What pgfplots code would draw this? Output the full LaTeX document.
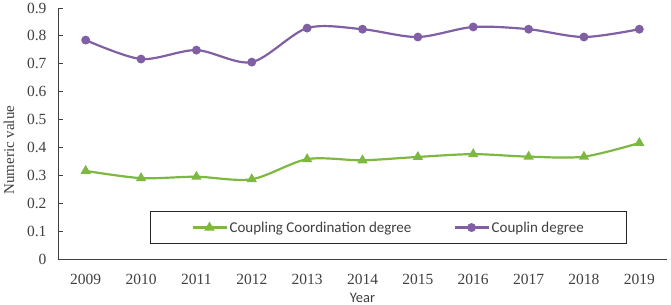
\documentclass[border=0pt]{standalone}
\usepackage{pgfplots}
\pgfplotsset{compat=1.18}
\usepackage{fontspec}
\setmainfont{Liberation Serif}
\newfontfamily\calfont{Carlito}
\definecolor{cgreen}{RGB}{125,185,65}
\definecolor{cpurple}{RGB}{128,95,165}
\begin{document}
\begin{tikzpicture}
\path[use as bounding box] (0,0) rectangle (671bp,305bp);
\begin{axis}[
  at={(58bp,46bp)}, anchor=south west,
  scale only axis, width=609bp, height=251bp,
  xmin=-0.5, xmax=10.5, ymin=0, ymax=0.9,
  axis lines=left,
  axis line style={-, black!75, line width=0.9pt},
  /pgf/number format/assume math mode=true,
  xtick={0,...,10},
  xticklabels={2009,2010,2011,2012,2013,2014,2015,2016,2017,2018,2019},
  extra x ticks={-0.5,0.5,1.5,2.5,3.5,4.5,5.5,6.5,7.5,8.5,9.5,10.5},
  extra x tick labels={},
  extra x tick style={major tick length=5bp, tick style={black!75, line width=0.9pt}},
  x tick style={draw=none},
  ytick={0,0.1,...,0.9},
  yticklabels={0,0.1,0.2,0.3,0.4,0.5,0.6,0.7,0.8,0.9},
  y tick style={black!75, line width=0.9pt},
  major tick length=5bp,
  tick align=inside,
  tick label style={font=\fontsize{15.5bp}{17bp}\selectfont, text=black!75},
  xticklabel style={yshift=-12bp},
  yticklabel style={xshift=-8bp},
  xlabel={\calfont Year},
  xlabel style={font=\fontsize{14.5bp}{16bp}\selectfont, text=black!75,
    at={(axis description cs:0.5,0)}, anchor=center, yshift=-39bp},
  ylabel={Numeric value},
  ylabel style={font=\fontsize{15bp}{17bp}\selectfont, text=black!75,
    at={(axis description cs:-0.0805,0.434)}, anchor=center},
  legend columns=2,
  legend style={at={(0.151,0.06)}, anchor=south west, draw=black!85, line width=0.9pt,
    inner xsep=41bp, inner ysep=8bp,
    font=\calfont\fontsize{15bp}{17bp}\selectfont, text=black!75,
    /tikz/every even column/.append style={column sep=40bp}},
  legend image code/.code={
    \draw[#1, mark=none] (0bp,0bp) -- (34bp,0bp);
    \draw[#1, draw=none] plot coordinates {(17bp,0bp)};
  },
]
\addplot[cgreen, line width=2.2pt, smooth, tension=0.5, mark=triangle*, mark size=3.8pt, mark options={solid}]
coordinates {(0,0.316) (1,0.290) (2,0.295) (3,0.286) (4,0.358) (5,0.354) (6,0.366) (7,0.376) (8,0.367) (9,0.367) (10,0.416)};
\addlegendentry{Coupling Coordination degree}
\addplot[cpurple, line width=2.2pt, smooth, tension=0.5, mark=*, mark size=3.3pt, mark options={solid}]
coordinates {(0,0.785) (1,0.717) (2,0.749) (3,0.706) (4,0.828) (5,0.824) (6,0.796) (7,0.832) (8,0.824) (9,0.796) (10,0.824)};
\addlegendentry{Couplin degree}
\end{axis}
\end{tikzpicture}
\end{document}
